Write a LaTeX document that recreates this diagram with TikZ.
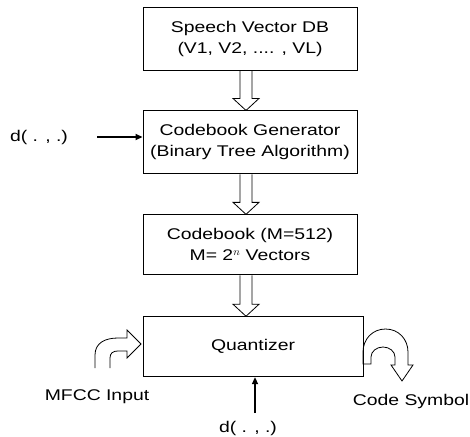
\documentclass[tikz,border=0pt]{standalone}
\usepackage{fontspec}
\setmainfont[FakeStretch=1.25]{Liberation Sans}
\usetikzlibrary{positioning,calc,arrows.meta}

\begin{document}
\begin{tikzpicture}[
		x=1pt, y=-1pt,
		every node/.style={font=\fontsize{15.5}{21}\selectfont, inner sep=0pt},
		block/.style={draw, line width=0.9pt, minimum width=214pt, minimum height=63pt, align=center},
		hollow/.style={draw, line width=0.8pt, line join=miter},
		feed/.style={line width=1.6pt, -{Triangle[length=7pt,width=6pt]}},
		node distance=40pt
		]
		\useasboundingbox (0,0) rectangle (470,436);
		\node[block] (db) at (250,38.5) {Speech Vector DB\\(V1, V2, .... , VL)};
		\node[block, below=of db] (gen) {Codebook Generator\\(Binary Tree Algorithm)};
		\node[block, below=of gen, minimum height=60pt] (book) {Codebook (M=512)\\M= 2$^{n}$ Vectors};
		\node[block, minimum width=220pt, minimum height=60pt, anchor=north] (quant) at ($(book.south)+(3,41)$) {Quantizer};
		
		% wide arrows between the stages
		\coordinate (ax) at (246,0);
		\foreach \a/\b in {db/gen, gen/book, book/quant}
			\draw[hollow] ($(\a.south -| ax)+(-6,0)$) -- ($(\b.north -| ax)+(-6,-12)$) -- ++(-7,0) -- (\b.north -| ax) -- ++(13,-12) -- ++(-7,0) -- ($(\a.south -| ax)+(6,0)$);
		
		% distance measure fed in
		\node (dleft) at (39,137) {d( . , .)};
		\coordinate (dleft-tail) at (97,137);
		\draw[feed] (dleft-tail) -- (gen.west |- dleft-tail);
		\node (dbot) at (248,428) {d( . , .)};
		\coordinate (dbot-tail) at (255,413);
		\draw[feed] (dbot-tail) -- (quant.south -| dbot-tail);
		
		% input and output of the quantizer
		\node (mfcc) at (97,397) {MFCC Input};
		\node (sym) at (411,401) {Code Symbol};
		\draw[hollow] (95,368) -- (95,355) .. controls (95,343) and (105,338) .. (118,338) -- (127,338) -- (127,330) -- (141,344) -- (127,358) -- (127,351) -- (118,351) .. controls (113,351) and (110,353) .. (110,358) -- (110,368);
		\draw[hollow] (363,364) -- (363,352) .. controls (363,339.3) and (372.3,329) .. (385.5,329) .. controls (398.7,329) and (408,339.3) .. (408,352) -- (408,365) -- (413,365) -- (402,381) -- (391,365) -- (395,365) -- (395,357) .. controls (395,351.5) and (389.6,347) .. (383,347) .. controls (376.4,347) and (371,351.5) .. (371,357) -- (371,364) -- cycle;
\end{tikzpicture}
\end{document}
